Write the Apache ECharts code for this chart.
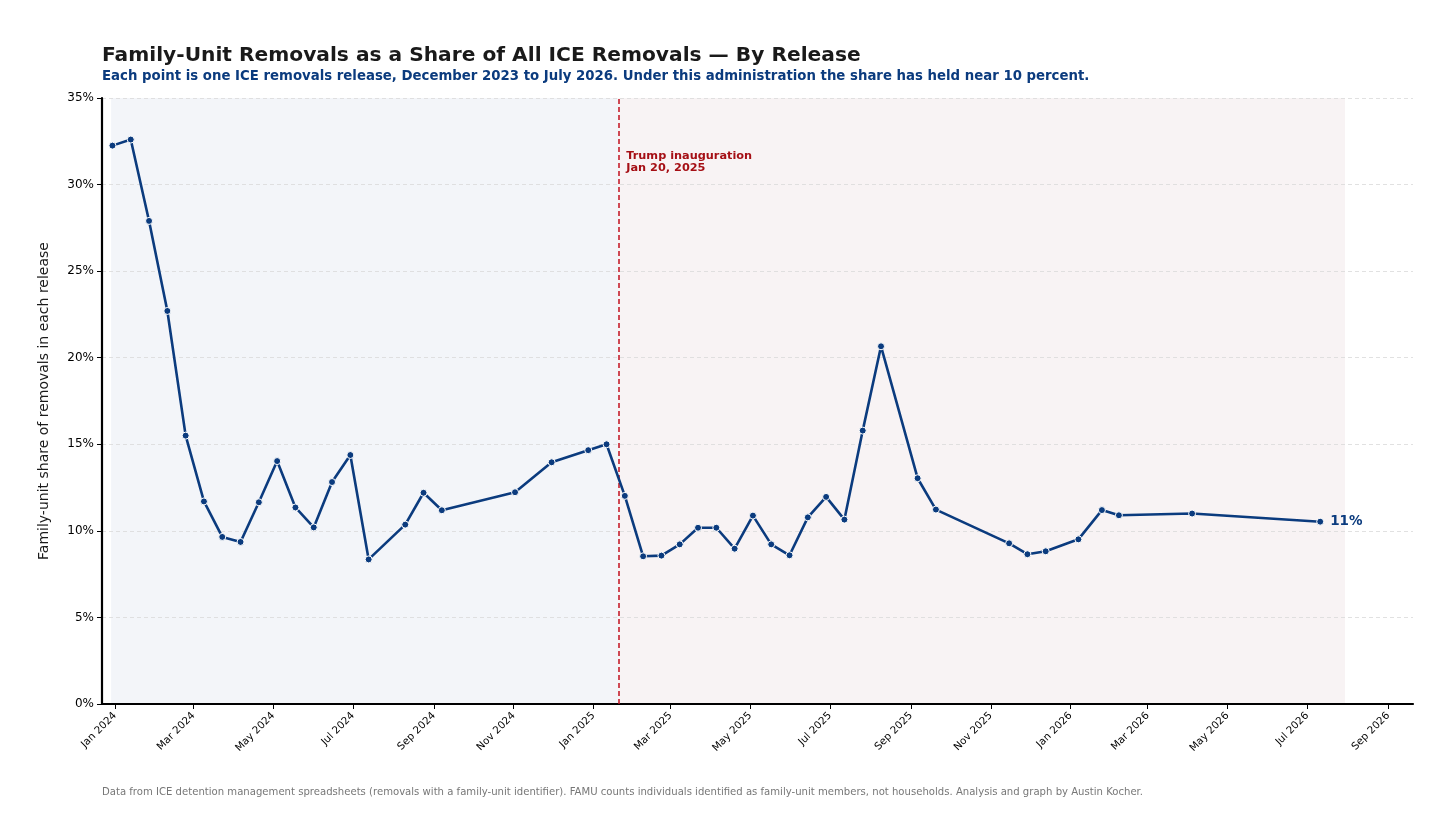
<!DOCTYPE html>
<html>

<head>
    <meta http-equiv="Content-Type" content="text/html; charset=utf-8" />
    <script type="text/javascript" src="https://cdn.jsdelivr.net/npm/echarts@6/dist/echarts.min.js"></script>
    <title>Family-Unit Removals</title>
    <style>
        html, body { margin: 0; padding: 0; background: #fff; }
        #chart { width: 1456px; height: 819px; }
    </style>
</head>

<body>
    <div id="chart"></div>
</body>

</html>
<script type="text/javascript">
// release dates (one ICE removals release each)
var releaseDates = [
    '2023-12-30', '2024-01-13', '2024-01-27', '2024-02-10', '2024-02-24', '2024-03-09',
    '2024-03-23', '2024-04-06', '2024-04-20', '2024-05-04', '2024-05-18', '2024-06-01',
    '2024-06-15', '2024-06-29', '2024-07-13', '2024-08-10', '2024-08-24', '2024-09-07',
    '2024-11-02', '2024-11-30', '2024-12-28', '2025-01-11', '2025-01-25', '2025-02-08',
    '2025-02-22', '2025-03-08', '2025-03-22', '2025-04-05', '2025-04-19', '2025-05-03',
    '2025-05-17', '2025-05-31', '2025-06-14', '2025-06-28', '2025-07-12', '2025-07-26',
    '2025-08-09', '2025-09-06', '2025-09-20', '2025-11-15', '2025-11-29', '2025-12-13',
    '2026-01-07', '2026-01-25', '2026-02-07', '2026-04-04', '2026-07-11'
];
// family-unit share of removals, percent
var familyShare = [
    32.25, 32.6, 27.9, 22.7, 15.5, 11.7,
    9.65, 9.36, 11.65, 14.03, 11.35, 10.2,
    12.82, 14.38, 8.35, 10.36, 12.2, 11.19,
    12.23, 13.96, 14.66, 15.0, 12.02, 8.53,
    8.57, 9.22, 10.18, 10.18, 8.97, 10.88,
    9.22, 8.59, 10.78, 11.96, 10.65, 15.79,
    20.66, 13.04, 11.23, 9.28, 8.65, 8.82,
    9.51, 11.2, 10.9, 11.0, 10.53
];
// x tick months (every other month)
var tickMonths = [
    '2024-01-01', '2024-03-01', '2024-05-01', '2024-07-01', '2024-09-01', '2024-11-01',
    '2025-01-01', '2025-03-01', '2025-05-01', '2025-07-01', '2025-09-01', '2025-11-01',
    '2026-01-01', '2026-03-01', '2026-05-01', '2026-07-01', '2026-09-01'
];
var monthNames = ['Jan', 'Feb', 'Mar', 'Apr', 'May', 'Jun', 'Jul', 'Aug', 'Sep', 'Oct', 'Nov', 'Dec'];

var inaugurationDate = '2025-01-20';
var shadeStart = '2023-12-29';
var shadeEnd = '2026-07-30';
var axisStart = '2023-12-22';
var axisEnd = '2026-09-20';

var navy = '#0b3b7e';
var font = 'DejaVu Sans';

// dates -> ms (UTC) so a plain value axis can be used
function toMs(s) {
    var p = s.split('-');
    return Date.UTC(+p[0], +p[1] - 1, +p[2]);
}

var tickValues = tickMonths.map(toMs);
var seriesData = releaseDates.map(function(d, i) {
    return [toMs(d), familyShare[i]];
});

var myChart = echarts.init(document.getElementById('chart'));

myChart.setOption({
    animation: false,
    backgroundColor: '#ffffff',
    textStyle: { fontFamily: font },
    title: [{
        text: 'Family-Unit Removals as a Share of All ICE Removals — By Release',
        left: 102,
        top: 46,
        padding: 0,
        textStyle: { fontFamily: font, fontSize: 20.2, fontWeight: 'bold', color: '#1a1a1a' }
    }, {
        text: 'Each point is one ICE removals release, December 2023 to July 2026. Under this administration the share has held near 10 percent.',
        left: 102,
        top: 70,
        padding: 0,
        textStyle: { fontFamily: font, fontSize: 13.3, fontWeight: 'bold', color: navy }
    }, {
        text: 'Data from ICE detention management spreadsheets (removals with a family-unit identifier). FAMU counts individuals identified as family-unit members, not households. Analysis and graph by Austin Kocher.',
        left: 102,
        top: 787,
        padding: 0,
        textStyle: { fontFamily: font, fontSize: 10.1, fontWeight: 'normal', color: '#777777' }
    }],
    grid: {
        left: 102,
        right: 43,
        top: 98,
        bottom: 115,
        containLabel: false
    },
    xAxis: {
        type: 'value',
        min: toMs(axisStart),
        max: toMs(axisEnd),
        z: 3,
        axisLine: { lineStyle: { color: '#000', width: 2.2 } },
        axisTick: {
            show: true,
            customValues: tickValues,
            length: 5,
            lineStyle: { color: '#000', width: 1 }
        },
        axisLabel: {
            customValues: tickValues,
            rotate: 45,
            margin: 10,
            fontSize: 10.3,
            color: '#000',
            fontFamily: font,
            formatter: function(v) {
                var d = new Date(v);
                return monthNames[d.getUTCMonth()] + ' ' + d.getUTCFullYear();
            }
        },
        splitLine: { show: false }
    },
    yAxis: {
        type: 'value',
        min: 0,
        max: 35,
        interval: 5,
        z: 3,
        name: 'Family-unit share of removals in each release',
        nameLocation: 'middle',
        nameGap: 51,
        nameTextStyle: { fontFamily: font, fontSize: 14, color: '#1a1a1a' },
        axisLine: { show: true, lineStyle: { color: '#000', width: 2.2 } },
        axisTick: { show: true, length: 5, lineStyle: { color: '#000' } },
        axisLabel: {
            formatter: '{value}%',
            fontSize: 12,
            color: '#000',
            margin: 8,
            fontFamily: font
        },
        splitLine: {
            show: true,
            lineStyle: { color: '#d9d9d9', type: [4, 3], width: 0.8 }
        }
    },
    series: [{
        // background periods, drawn beneath grid lines
        type: 'line',
        data: [],
        z: -1,
        silent: true,
        markArea: {
            silent: true,
            data: [
                [{ xAxis: toMs(shadeStart), itemStyle: { color: '#f3f5f9' } }, { xAxis: toMs(inaugurationDate) }],
                [{ xAxis: toMs(inaugurationDate), itemStyle: { color: '#f8f3f4' } }, { xAxis: toMs(shadeEnd) }]
            ]
        }
    }, {
        type: 'line',
        data: seriesData,
        symbol: 'circle',
        symbolSize: 7,
        showSymbol: true,
        lineStyle: { color: navy, width: 2.6 },
        itemStyle: { color: navy, borderColor: '#fff', borderWidth: 1 },
        z: 5,
        endLabel: {
            show: true,
            formatter: '11%',
            distance: 10,
            fontFamily: font,
            fontSize: 13.5,
            fontWeight: 'bold',
            color: navy
        },
        markLine: {
            silent: true,
            symbol: 'none',
            label: { show: false },
            lineStyle: { color: '#c0111f', type: [5, 3], width: 1.5 },
            data: [{ xAxis: toMs(inaugurationDate) }]
        },
        markPoint: {
            silent: true,
            symbol: 'circle',
            symbolSize: 0,
            data: [{
                coord: [toMs(inaugurationDate), 31.3],
                label: {
                    show: true,
                    position: 'right',
                    distance: 8,
                    formatter: 'Trump inauguration\nJan 20, 2025',
                    fontFamily: font,
                    fontSize: 11.3,
                    fontWeight: 'bold',
                    lineHeight: 12.5,
                    color: '#a50f15',
                    align: 'left'
                }
            }]
        }
    }]
});
</script>
